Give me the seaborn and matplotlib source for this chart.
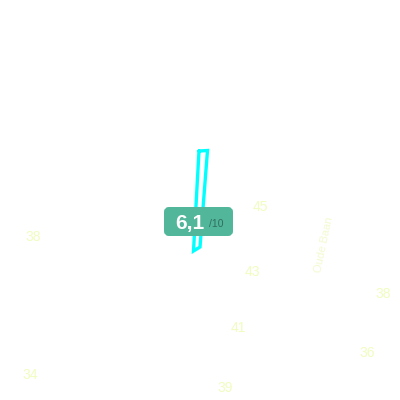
import matplotlib
matplotlib.use("Agg")
import matplotlib.pyplot as plt
from matplotlib.patches import FancyBboxPatch
import pandas as pd
import seaborn as sns

# route numbers scattered over the map
labels = ["45", "43", "41", "39", "36", "38", "38", "34"]
label_x = [260, 252, 238, 225, 367, 383, 33, 30]
label_y = [207, 272, 328, 388, 353, 294, 237, 375]

street_name = "Oude Baan"
street_x = 324
street_y = 245

# cyan outline of the selected segment
segment_x = [199, 207.5, 200, 193.5, 199]
segment_y = [151, 150.5, 247, 251, 151]

score = "6,1"
score_max = "/10"

sns.set_theme(style="white")
plt.rcParams["font.family"] = ["Liberation Sans", "DejaVu Sans"]

segment = pd.DataFrame({"x": segment_x, "y": segment_y})

fig, ax = plt.subplots(figsize=(4, 4), dpi=100)
ax.set_position([0, 0, 1, 1])

sns.lineplot(data=segment, x="x", y="y", sort=False, estimator=None,
             color="#00ffff", linewidth=2.4, ax=ax)
ax.lines[-1].set_solid_joinstyle("miter")

for i in range(len(labels)):
    ax.text(label_x[i], label_y[i], labels[i], color="#f0fdc0", fontsize=10,
            ha="center", va="center")
ax.text(street_x, street_y, street_name, color="#f3fad0", fontsize=8,
        rotation=78, ha="center", va="center")

badge = FancyBboxPatch((166, 209), 65, 25, boxstyle="round,pad=0,rounding_size=3",
                       facecolor="#52b69a", edgecolor="#52b69a", linewidth=4 * 0.72,
                       zorder=3)
ax.add_patch(badge)
ax.text(175, 223, score, color="white", fontsize=15, fontweight="bold",
        ha="left", va="center", zorder=4)
ax.text(209, 224, score_max, color="#2f6f5e", fontsize=7.5, ha="left",
        va="center", zorder=4)

ax.set_xlim(0, 400)
ax.set_ylim(400, 0)
ax.axis("off")

fig.savefig("out.png", dpi=100)
